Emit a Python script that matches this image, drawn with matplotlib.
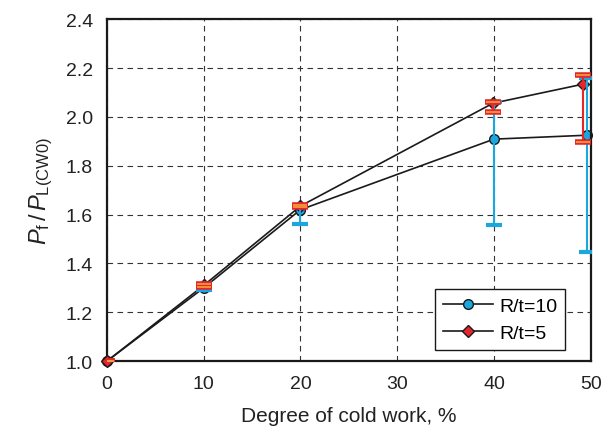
import numpy as np
import matplotlib.pyplot as plt

plt.rcParams['font.family'] = ['Liberation Sans', 'DejaVu Sans']
plt.rcParams['mathtext.fontset'] = 'custom'
plt.rcParams['mathtext.rm'] = 'Liberation Sans'
plt.rcParams['mathtext.it'] = 'Liberation Sans:italic'

# data
cold_work = [0, 10, 20, 40, 49.6]
ratio_rt10 = [1.0, 1.30, 1.62, 1.909, 1.925]
err_lo_rt10 = [0.0, 0.01, 0.06, 0.352, 0.48]
err_hi_rt10 = [0.0, 0.01, 0.01, 0.15, 0.235]

cold_work_rt5 = [0, 10, 20, 39.9, 49.2]
ratio_rt5 = [1.0, 1.31, 1.635, 2.056, 2.134]
err_lo_rt5 = [0.0, 0.005, 0.005, 0.036, 0.238]
err_hi_rt5 = [0.0, 0.005, 0.005, 0.004, 0.036]

blue = '#1aa7e0'
red = '#e5262b'

fig = plt.figure(figsize=(6.04, 4.39), dpi=100)
ax = fig.add_axes([0.177, 0.175, 0.801, 0.779])

# error bars (caps drawn over the markers like in the original)
ax.errorbar(cold_work, ratio_rt10, yerr=[err_lo_rt10, err_hi_rt10], fmt='none',
            ecolor=blue, elinewidth=1.5, capsize=6, capthick=3, zorder=3)
ax.errorbar(cold_work_rt5, ratio_rt5, yerr=[err_lo_rt5, err_hi_rt5], fmt='none',
            ecolor=red, elinewidth=1.5, capsize=6, capthick=4, zorder=3)
ax.errorbar(cold_work_rt5, ratio_rt5, yerr=[err_lo_rt5, err_hi_rt5], fmt='none',
            ecolor='#f6a23a', elinewidth=0, capsize=5, capthick=1.2, zorder=3.1)

ax.plot(cold_work, ratio_rt10, '-o', color='#1a1a1a', lw=1.2, ms=7,
        mfc=blue, mec='#1a1a1a', mew=1, label='R/t=10', zorder=2.5,
        clip_on=False)
ax.plot(cold_work_rt5, ratio_rt5, '-D', color='#1a1a1a', lw=1.2, ms=6.5,
        mfc=red, mec='#1a1a1a', mew=1, label='R/t=5', zorder=2.6,
        clip_on=False)

ax.set_xlim(0, 50)
ax.set_ylim(1.0, 2.4)
ax.set_xticks(np.arange(0, 51, 10))
ax.set_yticks(np.arange(1.0, 2.41, 0.2))
ax.set_yticklabels([f'{v:.1f}' for v in np.arange(1.0, 2.41, 0.2)])
ax.grid(True, ls=(0, (5, 4)), color='#333333', lw=0.8)
ax.set_axisbelow(True)
for s in ax.spines.values():
    s.set_linewidth(1.6)
    s.set_color('#1a1a1a')
ax.tick_params(length=0, labelsize=14, pad=10, colors='#222222')

ax.set_xlabel('Degree of cold work, %', fontsize=15, labelpad=10, color='#222222')
ax.set_ylabel(r'$P_\mathrm{f}\,/\,P_\mathrm{L(CW0)}$', fontsize=17, labelpad=8,
              color='#222222')

leg = ax.legend(loc='lower right', bbox_to_anchor=(0.967, 0.005), fontsize=14,
                fancybox=False, edgecolor='#1a1a1a', framealpha=1,
                handlelength=2.6, handletextpad=0.3, borderpad=0.4,
                labelspacing=0.5)
leg.get_frame().set_linewidth(1.0)
leg.set_zorder(6)

plt.savefig('out.png', dpi=100)
